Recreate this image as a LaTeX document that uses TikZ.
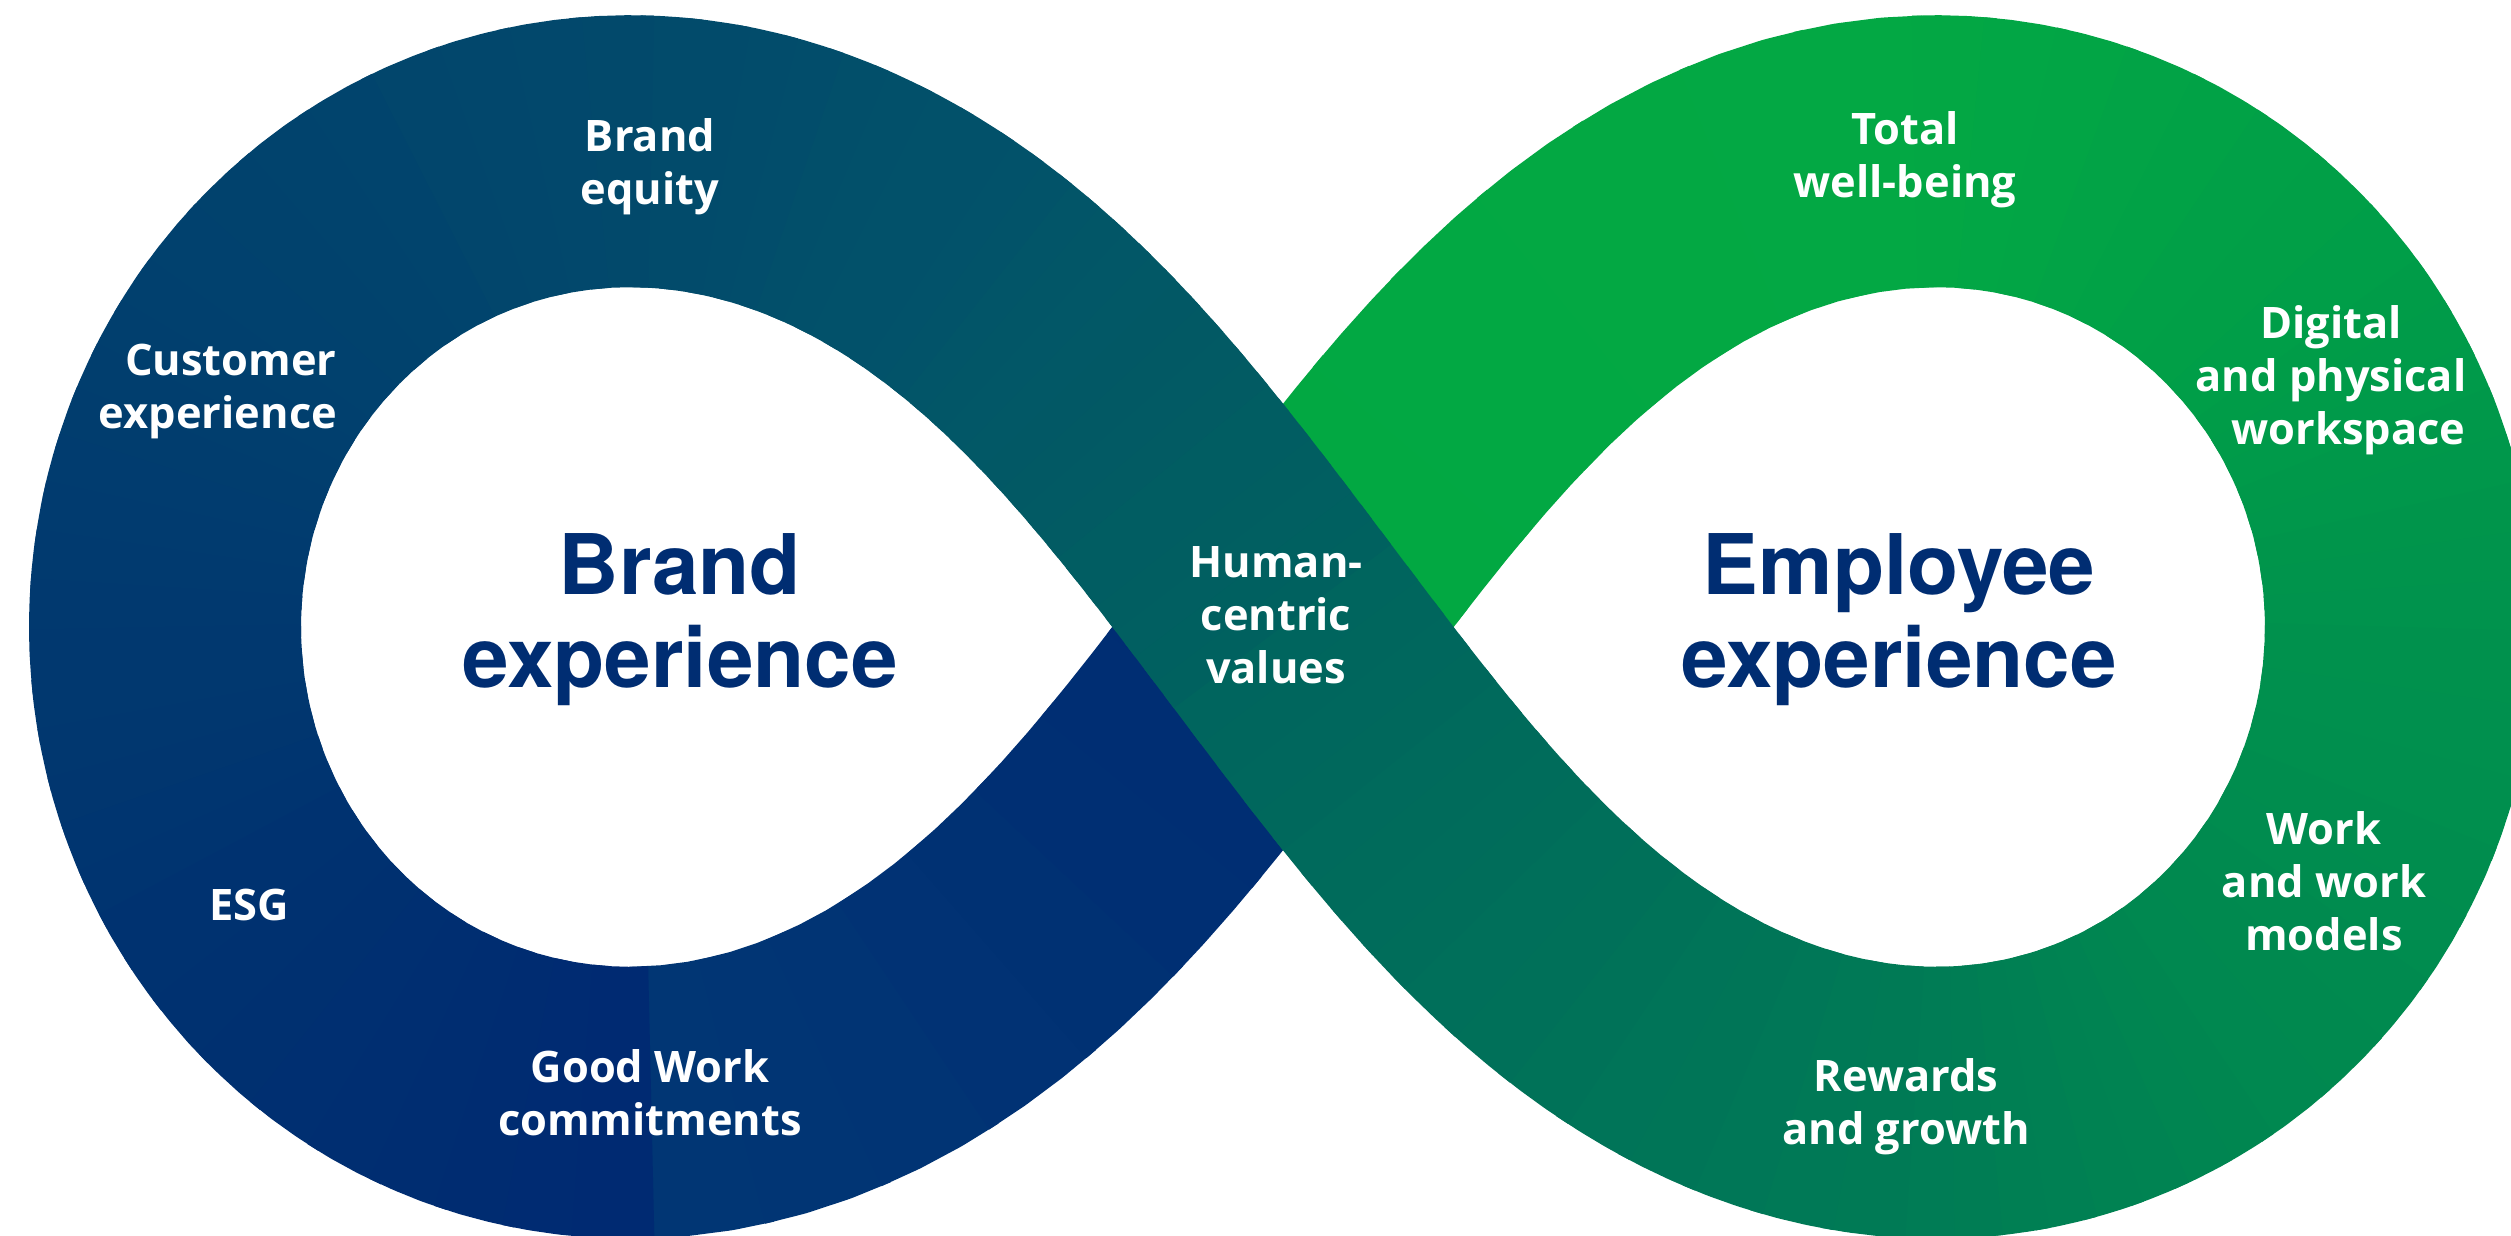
\documentclass[tikz,border=0pt]{standalone}
\usepackage{fontspec}
\newfontfamily\lblfont{Open Sans}
\newfontfamily\ttlfont{TeX Gyre Heros}

\definecolor{titleblue}{RGB}{0,45,114}
% right loop
\definecolor{gA}{RGB}{2,168,66}
\definecolor{gB}{RGB}{3,168,68}
\definecolor{gC}{RGB}{0,157,72}
\definecolor{gD}{RGB}{0,146,77}
\definecolor{gE}{RGB}{0,135,80}
\definecolor{gF}{RGB}{0,123,85}
\definecolor{gG}{RGB}{0,110,90}
\definecolor{gH}{RGB}{0,100,94}
% left loop
\definecolor{bA}{RGB}{0,98,95}
\definecolor{bB}{RGB}{2,90,100}
\definecolor{bC}{RGB}{2,82,106}
\definecolor{bD}{RGB}{2,74,107}
\definecolor{bE}{RGB}{1,64,110}
\definecolor{bF}{RGB}{1,57,111}
\definecolor{bG}{RGB}{0,49,112}
\definecolor{bH}{RGB}{0,42,114}
\definecolor{bI}{RGB}{1,55,116}
\definecolor{bJ}{RGB}{0,44,115}

\tikzset{
  band/.style={line width=2.72cm, line cap=butt, line join=round},
  lbl/.style={text=white, align=center,
    font=\lblfont\bfseries\fontsize{12.35}{15.08}\selectfont},
  ttl/.style={text=titleblue, align=center,
    font=\ttlfont\bfseries\fontsize{23.8}{26.5}\selectfont},
}

% one run of the band, in pieces of blended colour
\newcommand\bandrun[1]{%
  \foreach \ua/\ub/\ca/\cb in {#1}{%
    \foreach \k in {1,...,8}{%
      \pgfmathsetmacro\uu{\ua+(\ub-\ua)*(\k-1)/8}%
      \pgfmathsetmacro\uv{\ua+(\ub-\ua)*\k/8+0.01}%
      \pgfmathsetmacro\mx{100*(\k-0.5)/8}%
      \draw[band, color=\cb!\mx!\ca] plot[domain=\uu:\uv, samples=4, variable=\u] ({xx(\u)},{yy(\u)});
    }%
  }%
}

\begin{document}
\begin{tikzpicture}[declare function={
    ss(\t)=ifthenelse(\t<2,\t,\t-2);
    tt(\t)=max(0.0005,1-abs(1-ss(\t)));
    rr(\t)=11.18*sin(90*tt(\t));
    ph(\t)=ifthenelse(ss(\t)<1,1,-1)*acos(pow(sin(90*tt(\t)),2.255))/1.698;
    xx(\t)=ifthenelse(\t<2,1,-1)*rr(\t)*cos(ph(\t));
    yy(\t)=rr(\t)*sin(ph(\t));}]
  \useasboundingbox (-12.83,-6.08) rectangle (12.28,6.27);
  \fill[white] (-12.83,-6.08) rectangle (12.28,6.27);
  \clip (-12.83,-6.08) rectangle (12.28,6.27);

  % under: blue arm into the crossing
  \bandrun{3.49/4/bI/bJ}
  % right loop
  \bandrun{0/0.5/gA/gB, 0.5/0.8/gB/gC, 0.8/1/gC/gD, 1/1.3/gD/gE,
           1.3/1.5/gE/gF, 1.5/1.8/gF/gG, 1.8/2/gG/gH}
  % left loop, over the crossing
  \bandrun{2/2.15/bA/bB, 2.15/2.3/bB/bC, 2.3/2.5/bC/bD, 2.5/2.8/bD/bE,
           2.8/3/bE/bF, 3/3.2/bF/bG, 3.2/3.49/bG/bH}

  \node[ttl] (brandexp) at (-6.03,0.07) {Brand\\experience};
  \node[ttl] (empexp) at (6.16,0.07) {Employee\\experience};

  \node[lbl] (brandeq) at (-6.33,4.60) {Brand\\equity};
  \node[lbl] (custexp) at (-10.65,2.36) {\hspace*{0.26cm}Customer\\experience};
  \node[lbl] (esg) at (-10.34,-2.78) {ESG};
  \node[lbl] (goodwork) at (-6.33,-4.66) {Good Work\\commitments};
  \node[lbl] (human) at (-0.07,0.12) {Human-\\centric\\values};
  \node[lbl] (wellbeing) at (6.22,4.67) {Total\\well-being};
  \node[lbl] (workspace) at (10.48,2.465) {Digital\\and physical\\\hspace*{0.35cm}workspace};
  \node[lbl] (workmodels) at (10.41,-2.54) {Work\\and work\\models};
  \node[lbl] (rewards) at (6.23,-4.80) {Rewards\\and growth};
\end{tikzpicture}
\end{document}
